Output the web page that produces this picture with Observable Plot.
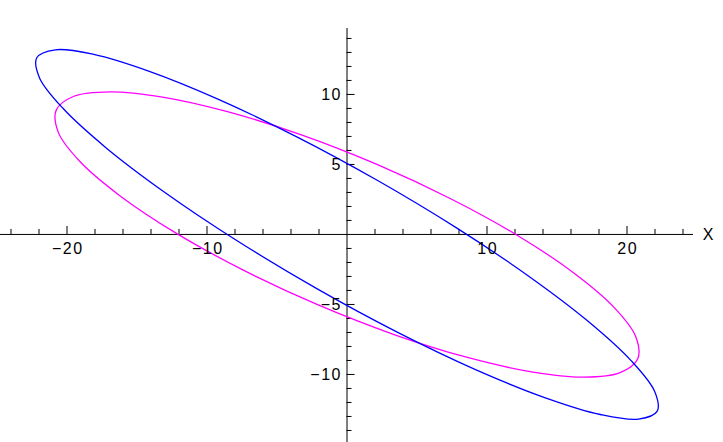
<!DOCTYPE html>
<html>
<head>
<meta charset="utf-8">
<script src="https://cdn.jsdelivr.net/npm/d3@7"></script>
<script src="https://cdn.jsdelivr.net/npm/@observablehq/plot@0.6"></script>
<style>
  html, body { margin: 0; padding: 0; background: #ffffff; }
  #chart svg { display: block; }
  #chart svg text { letter-spacing: 1.5px; }
</style>
</head>
<body>
<div id="chart"></div>
<script>
// Blue closed curve
const blueX = [22.16, 21.97, 20.29, 17.22, 12.98, 7.85, 2.19, -3.62, -9.18, -14.12, -18.09, -20.83,
               -22.16, -21.97, -20.29, -17.22, -12.98, -7.85, -2.19, 3.62, 9.18, 14.12, 18.09, 20.83];
const blueY = [-12.62, -11.20, -9.01, -6.20, -2.98, 0.45, 3.85, 6.99, 9.65, 11.65, 12.86, 13.19,
               12.62, 11.20, 9.01, 6.20, 2.98, -0.45, -3.85, -6.99, -9.65, -11.65, -12.86, -13.19];

// Magenta closed curve
const magentaX = [20.77, 20.62, 19.06, 16.20, 12.24, 7.44, 2.14, -3.31, -8.54, -13.18, -16.92, -19.51,
                  -20.77, -20.62, -19.06, -16.20, -12.24, -7.44, -2.14, 3.31, 8.54, 13.18, 16.92, 19.51];
const magentaY = [-8.88, -7.29, -5.19, -2.75, -0.11, 2.53, 5.00, 7.13, 8.77, 9.81, 10.19, 9.87,
                  8.88, 7.29, 5.19, 2.75, 0.11, -2.53, -5.00, -7.13, -8.77, -9.81, -10.19, -9.87];

// Axis ticks and labels
const xMinorTicks = [-24, -22, -18, -16, -14, -12, -8, -6, -4, -2, 2, 4, 6, 8, 12, 14, 16, 18, 22, 24];
const xMajorTicks = [-20, -10, 10, 20];
const xTickLabels = ["\u221220", "\u221210", "10", "20"];
const yMinorTicks = [-14, -13, -12, -11, -9, -8, -7, -6, -4, -3, -2, -1, 1, 2, 3, 4, 6, 7, 8, 9, 11, 12, 13, 14];
const yMajorTicks = [-10, -5, 5, 10];
const yTickLabels = ["\u221210", "\u22125", "5", "10"];
const xAxisName = "X";

const blue = blueX.map((x, i) => ({x, y: blueY[i]}));
const magenta = magentaX.map((x, i) => ({x, y: magentaY[i]}));

const pxPerUnit = 14;
const minorLen = 5 / pxPerUnit;
const majorLen = 8 / pxPerUnit;

const chart = Plot.plot({
  width: 723,
  height: 442,
  marginLeft: 0,
  marginRight: 30,
  marginTop: 28,
  marginBottom: 0,
  x: {domain: [-24.75, 24.75], axis: null},
  y: {domain: [-14.86, 14.71], axis: null},
  style: {
    fontFamily: "'Liberation Sans', Arial, sans-serif",
    fontSize: "16px",
    background: "#ffffff",
    color: "#000000",
    overflow: "visible"
  },
  marks: [
    Plot.ruleY([0], {stroke: "#000000", strokeWidth: 1}),
    Plot.ruleX([0], {stroke: "#000000", strokeWidth: 1}),
    Plot.ruleX(xMinorTicks, {x: d => d, y1: 0, y2: minorLen, stroke: "#000000"}),
    Plot.ruleX(xMajorTicks, {x: d => d, y1: 0, y2: majorLen, stroke: "#000000"}),
    Plot.ruleY(yMinorTicks, {y: d => d, x1: 0, x2: minorLen, stroke: "#000000"}),
    Plot.ruleY(yMajorTicks, {y: d => d, x1: 0, x2: majorLen, stroke: "#000000"}),
    Plot.line(magenta, {x: "x", y: "y", curve: "catmull-rom-closed", stroke: "#ff00ff", strokeWidth: 1.3}),
    Plot.line(blue, {x: "x", y: "y", curve: "catmull-rom-closed", stroke: "#0000ff", strokeWidth: 1.3}),
    Plot.text(xMajorTicks, {x: d => d, y: 0, text: (d, i) => xTickLabels[i], dx: 0.75, dy: 14.5, fontSize: 16, fill: "#000000"}),
    Plot.text(yMajorTicks, {x: 0, y: d => d, text: (d, i) => yTickLabels[i], dx: -5, textAnchor: "end", fontSize: 16, fill: "#000000"}),
    Plot.text([xAxisName], {y: 0, text: d => d, frameAnchor: "right", dx: 21.5, fontSize: 16, fill: "#000000"})
  ]
});

document.getElementById("chart").appendChild(chart);
</script>
</body>
</html>
